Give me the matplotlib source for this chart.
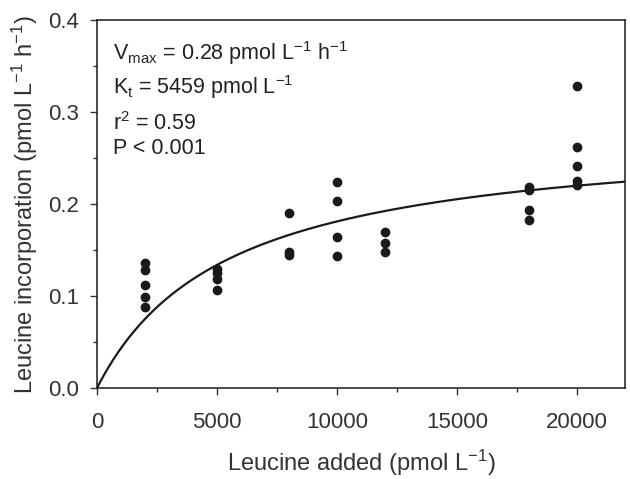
import matplotlib
matplotlib.use("Agg")
import matplotlib.pyplot as plt
import numpy as np
from matplotlib.ticker import MultipleLocator, FormatStrFormatter

plt.rcParams["font.family"] = ["Liberation Sans", "DejaVu Sans"]
plt.rcParams["mathtext.fontset"] = "custom"
plt.rcParams["mathtext.rm"] = "Liberation Sans"
plt.rcParams["mathtext.it"] = "Liberation Sans:italic"
plt.rcParams["mathtext.default"] = "regular"

# Observed leucine incorporation at each concentration added
leu_added = [2000] * 5 + [5000] * 4 + [8000] * 3 + [10000] * 4 + [12000] * 3 + [18000] * 4 + [20000] * 5
leu_incorp = [0.136, 0.128, 0.112, 0.099, 0.088,
              0.129, 0.125, 0.118, 0.107,
              0.190, 0.148, 0.145,
              0.224, 0.203, 0.164, 0.143,
              0.170, 0.158, 0.148,
              0.219, 0.215, 0.193, 0.183,
              0.328, 0.262, 0.241, 0.225, 0.221]

# Michaelis-Menten fit parameters printed on the chart
vmax = 0.28
kt = 5459

fig = plt.figure(figsize=(6.3, 4.79), dpi=100)
ax = fig.add_axes([0.154, 0.19, 0.838, 0.768])

ax.plot(leu_added, leu_incorp, "o", color="#1a1a1a", markersize=6, zorder=3)

xfit = np.linspace(0, 22000, 300)
ax.plot(xfit, vmax * xfit / (kt + xfit), "-", color="#1a1a1a", lw=1.6)

ax.set_xlim(0, 22000)
ax.set_ylim(0, 0.4)
ax.xaxis.set_major_locator(MultipleLocator(5000))
ax.xaxis.set_minor_locator(MultipleLocator(2500))
ax.yaxis.set_major_locator(MultipleLocator(0.1))
ax.yaxis.set_minor_locator(MultipleLocator(0.05))
ax.yaxis.set_major_formatter(FormatStrFormatter("%.1f"))
ax.tick_params(which="major", direction="out", length=5, width=1, labelsize=16,
               colors="#333333", labelcolor="#333333", pad=8)
ax.tick_params(which="minor", direction="out", length=3, width=1, colors="#333333")
ax.tick_params(axis="x", pad=12)
for s in ax.spines.values():
    s.set_linewidth(1.1)
    s.set_color("#1a1a1a")

ax.set_xlabel("Leucine added (pmol L$^{-1}$)", fontsize=17, color="#333333", labelpad=11)
ax.set_ylabel("Leucine incorporation (pmol L$^{-1}$ h$^{-1}$)", fontsize=17, color="#333333", labelpad=6)

txt = dict(transform=ax.transAxes, fontsize=15.5, color="#222222", va="center", ha="left")
ax.text(0.03, 0.910, "V$_{max}$ = 0.28 pmol L$^{-1}$ h$^{-1}$", **txt)
ax.text(0.03, 0.818, "K$_{t}$ = 5459 pmol L$^{-1}$", **txt)
ax.text(0.03, 0.720, "r$^{2}$ = 0.59", **txt)
ax.text(0.03, 0.652, "P < 0.001", **txt)

fig.savefig("out.png", dpi=100)
